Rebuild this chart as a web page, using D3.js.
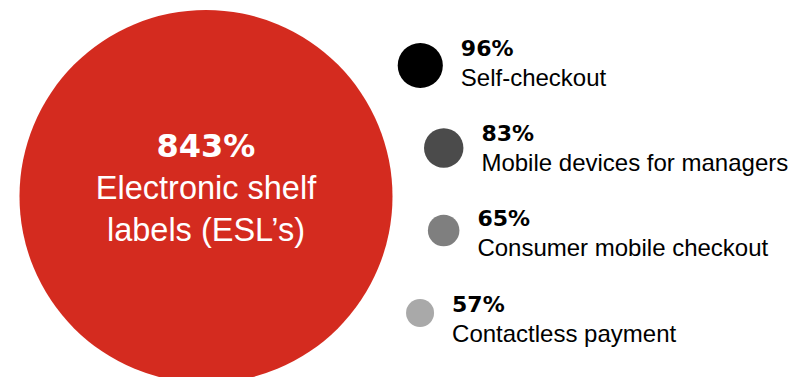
<!DOCTYPE html>
<html>
<head>
<meta charset="utf-8">
<script src="https://cdn.jsdelivr.net/npm/d3@7"></script>
<style>
  html, body { margin: 0; padding: 0; background: #fff; }
  svg { display: block; }
</style>
</head>
<body>
<div id="chart"></div>
<script>
// Technologien: Wachstum in % — eine große Blase + vier kleine rechts
const categories = ["Electronic shelf labels (ESL’s)", "Self-checkout", "Mobile devices for managers", "Consumer mobile checkout", "Contactless payment"];
const values = [843, 96, 83, 65, 57];
const colors = ["#d42b1f", "#000000", "#4b4b4b", "#7f7f7f", "#a9a9a9"];

const W = 810, H = 377;
const svg = d3.select("#chart").append("svg").attr("width", W).attr("height", H);

const data = categories.map((c, i) => ({ name: c, value: values[i], color: colors[i] }));
const big = data[0];
const small = data.slice(1);

// Radius linear zum Wert
const r = d3.scaleLinear().domain([57, 843]).range([14, 186.5]);

// große Blase oben links angedockt
const bigR = r(big.value);
const bigCx = 19.5 + bigR, bigCy = 10 + bigR;

svg.append("circle")
  .attr("cx", bigCx).attr("cy", bigCy).attr("r", bigR)
  .attr("fill", big.color);

// Zeilenumbruch für das Label in der großen Blase
function wrap(str, maxChars) {
  const lines = [];
  let cur = "";
  str.split(" ").forEach(w => {
    if (cur && (cur + " " + w).length > maxChars) { lines.push(cur); cur = w; }
    else cur = cur ? cur + " " + w : w;
  });
  if (cur) lines.push(cur);
  return lines;
}

const bigText = svg.append("text")
  .attr("text-anchor", "middle")
  .attr("fill", "#fff");
bigText.append("tspan")
  .attr("x", bigCx).attr("y", bigCy - 39.5)
  .style("font-family", "'DejaVu Sans', sans-serif")
  .style("font-weight", "700")
  .style("font-size", "32px")
  .text(big.value + "%");
wrap(big.name, 16).forEach((ln, i) => {
  bigText.append("tspan")
    .attr("x", bigCx).attr("y", bigCy + 2.5 + i * 42)
    .style("font-family", "'Liberation Sans', Arial, sans-serif")
    .style("font-size", "32.5px")
    .text(ln);
});

// kleine Blasen entlang eines Bogens
const yC = d3.scalePoint().domain(small.map(d => d.name)).range([65.5, 313]);
const yT = d3.scalePoint().domain(small.map(d => d.name)).range([56, 311.7]);
const arc = { cx: 142.5, cy: 189, R: 304 };
const xC = y => arc.cx + Math.sqrt(arc.R * arc.R - (y - arc.cy) * (y - arc.cy));

const g = svg.append("g")
  .selectAll("g.item")
  .data(small)
  .join("g")
  .attr("class", "item");

g.append("circle")
  .attr("cx", d => xC(yC(d.name)))
  .attr("cy", d => yC(d.name))
  .attr("r", d => r(d.value))
  .attr("fill", d => d.color);

g.append("text")
  .attr("x", d => xC(yC(d.name)) + r(d.value) + 18)
  .attr("y", d => yT(d.name))
  .style("font-family", "'DejaVu Sans', sans-serif")
  .style("font-weight", "700")
  .style("font-size", "22px")
  .attr("fill", "#000")
  .text(d => d.value + "%");

g.append("text")
  .attr("x", d => xC(yC(d.name)) + r(d.value) + 18)
  .attr("y", d => yT(d.name) + 30)
  .style("font-family", "'Liberation Sans', Arial, sans-serif")
  .style("font-size", "24px")
  .attr("fill", "#000")
  .text(d => d.name);
</script>
</body>
</html>
